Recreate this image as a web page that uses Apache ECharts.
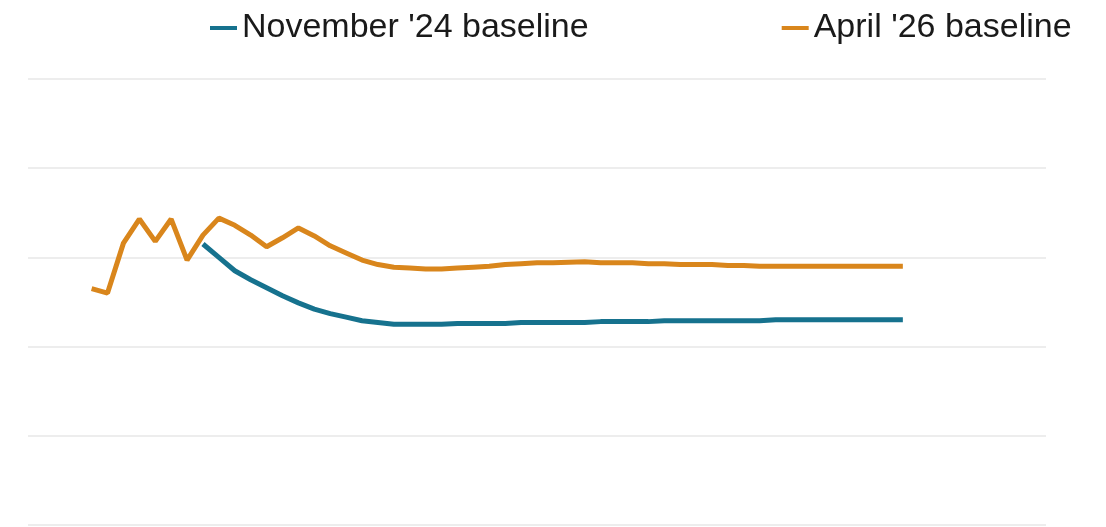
<!DOCTYPE html>
<html>
<head>
<meta charset="utf-8">
<script src="https://cdn.jsdelivr.net/npm/echarts@6/dist/echarts.min.js"></script>
<style>
  html, body { margin: 0; padding: 0; background: #ffffff; }
  #chart { width: 1106px; height: 527px; }
</style>
</head>
<body>
<div id="chart"></div>
<script>
// Quarterly time axis (labels hidden in the drawing)
const quarters = [
  '2022 Q1','2022 Q2','2022 Q3','2022 Q4',
  '2023 Q1','2023 Q2','2023 Q3','2023 Q4',
  '2024 Q1','2024 Q2','2024 Q3','2024 Q4',
  '2025 Q1','2025 Q2','2025 Q3','2025 Q4',
  '2026 Q1','2026 Q2','2026 Q3','2026 Q4',
  '2027 Q1','2027 Q2','2027 Q3','2027 Q4',
  '2028 Q1','2028 Q2','2028 Q3','2028 Q4',
  '2029 Q1','2029 Q2','2029 Q3','2029 Q4',
  '2030 Q1','2030 Q2','2030 Q3','2030 Q4',
  '2031 Q1','2031 Q2','2031 Q3','2031 Q4',
  '2032 Q1','2032 Q2','2032 Q3','2032 Q4',
  '2033 Q1','2033 Q2','2033 Q3','2033 Q4',
  '2034 Q1','2034 Q2','2034 Q3','2034 Q4',
  '2035 Q1','2035 Q2','2035 Q3','2035 Q4',
  '2036 Q1','2036 Q2','2036 Q3','2036 Q4',
  '2037 Q1','2037 Q2','2037 Q3','2037 Q4',
  '2038 Q1'
];

// Value axis ticks
const yTicks = [0, 1, 2, 3, 4, 5];

// November '24 baseline, from 2024 Q4
const nov24Start = '2024 Q4';
const nov24Values = [
  3.15, 3.00, 2.85, 2.75, 2.66, 2.57, 2.49, 2.42, 2.37, 2.33,
  2.29, 2.27, 2.25, 2.25, 2.25, 2.25, 2.26, 2.26, 2.26, 2.26,
  2.27, 2.27, 2.27, 2.27, 2.27, 2.28, 2.28, 2.28, 2.28, 2.29,
  2.29, 2.29, 2.29, 2.29, 2.29, 2.29, 2.30, 2.30, 2.30, 2.30,
  2.30, 2.30, 2.30, 2.30, 2.30
];

// April '26 baseline, from 2023 Q1
const apr26Start = '2023 Q1';
const apr26Values = [
  2.65, 2.60, 3.16, 3.43, 3.18, 3.43, 2.97, 3.25, 3.44, 3.36,
  3.25, 3.12, 3.22, 3.33, 3.24, 3.13, 3.05, 2.97, 2.92, 2.89,
  2.88, 2.87, 2.87, 2.88, 2.89, 2.90, 2.92, 2.93, 2.94, 2.94,
  2.945, 2.95, 2.94, 2.94, 2.94, 2.93, 2.93, 2.92, 2.92, 2.92,
  2.91, 2.91, 2.90, 2.90, 2.90, 2.90, 2.90, 2.90, 2.90, 2.90,
  2.90, 2.90
];

// Place a series on the quarter axis, leaving earlier quarters empty
function alignToAxis(start, values) {
  const offset = quarters.indexOf(start);
  return quarters.map((q, i) => {
    const k = i - offset;
    return k >= 0 && k < values.length ? values[k] : null;
  });
}

const chart = echarts.init(document.getElementById('chart'), null, { renderer: 'canvas' });

chart.setOption({
  backgroundColor: '#ffffff',
  animation: false,
  legend: {
    top: 6,
    left: 205,
    itemGap: 193,
    itemWidth: 27,
    itemHeight: 4,
    itemTextGap: 8,
    icon: 'rect',
    textStyle: {
      fontFamily: '"Liberation Sans", Arial, sans-serif',
      fontSize: 34,
      color: '#1a1a1a'
    },
    data: ["November '24 baseline", "April '26 baseline"]
  },
  grid: {
    left: 28,
    right: 60,
    top: 79,
    bottom: 2,
    containLabel: false
  },
  xAxis: {
    type: 'category',
    data: quarters,
    boundaryGap: false,
    axisLine: { show: false },
    axisTick: { show: false },
    axisLabel: { show: false },
    splitLine: { show: false }
  },
  yAxis: {
    type: 'value',
    min: yTicks[0],
    max: yTicks[yTicks.length - 1],
    interval: 1,
    axisLine: { show: false },
    axisTick: { show: false },
    axisLabel: { show: false },
    splitLine: { show: true, lineStyle: { color: '#ededed', width: 2 } }
  },
  series: [
    {
      name: "November '24 baseline",
      type: 'line',
      data: alignToAxis(nov24Start, nov24Values),
      showSymbol: false,
      symbol: 'none',
      connectNulls: false,
      lineStyle: { color: '#16728e', width: 5 },
      itemStyle: { color: '#16728e' },
      z: 3
    },
    {
      name: "April '26 baseline",
      type: 'line',
      data: alignToAxis(apr26Start, apr26Values),
      showSymbol: false,
      symbol: 'none',
      connectNulls: false,
      lineStyle: { color: '#d9861c', width: 5 },
      itemStyle: { color: '#d9861c' },
      z: 2
    }
  ]
});
</script>
</body>
</html>
